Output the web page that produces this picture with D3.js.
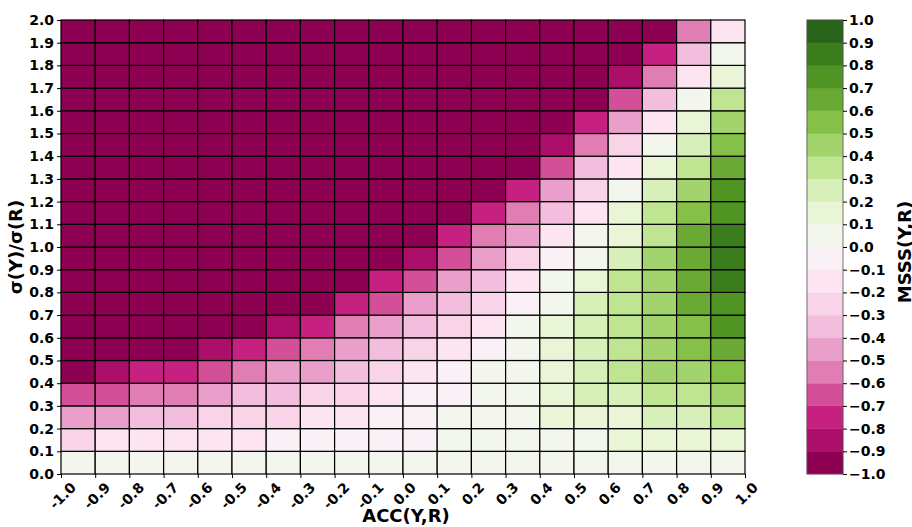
<!DOCTYPE html>
<html><head><meta charset="utf-8">
<script src="https://cdn.jsdelivr.net/npm/d3@7"></script>
<style>
body{margin:0;background:#fff;}
svg text{font-family:"DejaVu Sans",sans-serif;font-weight:bold;fill:#000;}
</style></head>
<body><svg id="c" width="912" height="527"></svg>
<script>
// ---- data ----
const accEdges   = [-1.0,-0.9,-0.8,-0.7,-0.6,-0.5,-0.4,-0.3,-0.2,-0.1,0.0,0.1,0.2,0.3,0.4,0.5,0.6,0.7,0.8,0.9,1.0];
const ratioEdges = [0.0,0.1,0.2,0.3,0.4,0.5,0.6,0.7,0.8,0.9,1.0,1.1,1.2,1.3,1.4,1.5,1.6,1.7,1.8,1.9,2.0];
const xTickLabels = ["-1.0","-0.9","-0.8","-0.7","-0.6","-0.5","-0.4","-0.3","-0.2","-0.1","0.0","0.1","0.2","0.3","0.4","0.5","0.6","0.7","0.8","0.9","1.0"];
const yTickLabels = ["0.0","0.1","0.2","0.3","0.4","0.5","0.6","0.7","0.8","0.9","1.0","1.1","1.2","1.3","1.4","1.5","1.6","1.7","1.8","1.9","2.0"];
const levels = [-1.0,-0.9,-0.8,-0.7,-0.6,-0.5,-0.4,-0.3,-0.2,-0.1,0.0,0.1,0.2,0.3,0.4,0.5,0.6,0.7,0.8,0.9,1.0];
const cbarTickLabels = ["\u22121.0","\u22120.9","\u22120.8","\u22120.7","\u22120.6","\u22120.5","\u22120.4","\u22120.3","\u22120.2","\u22120.1","0.0","0.1","0.2","0.3","0.4","0.5","0.6","0.7","0.8","0.9","1.0"];
const piygAnchors = ["#8e0152","#c51b7d","#de77ae","#f1b6da","#fde0ef","#f7f7f7","#e6f5d0","#b8e186","#7fbc41","#4d9221","#276419"];
// MSSS(Y,R) per cell; row k = ratio band [ratioEdges[k], ratioEdges[k+1]] (bottom row first),
// column = ACC band [accEdges[i], accEdges[i+1]]
const msss = [
 [0.05,0.05,0.05,0.05,0.05,0.05,0.05,0.05,0.05,0.05,0.05,0.05,0.05,0.05,0.05,0.05,0.05,0.05,0.05,0.05],
 [-0.25,-0.15,-0.15,-0.15,-0.15,-0.15,-0.05,-0.05,-0.05,-0.05,-0.05,0.05,0.05,0.05,0.05,0.05,0.15,0.15,0.15,0.15],
 [-0.45,-0.45,-0.35,-0.35,-0.25,-0.25,-0.25,-0.15,-0.15,-0.05,-0.05,0.05,0.05,0.05,0.15,0.15,0.15,0.25,0.25,0.35],
 [-0.65,-0.65,-0.55,-0.55,-0.45,-0.35,-0.35,-0.25,-0.25,-0.15,-0.05,-0.05,0.05,0.05,0.15,0.25,0.25,0.35,0.35,0.45],
 [-1.0,-0.85,-0.75,-0.75,-0.65,-0.55,-0.45,-0.45,-0.35,-0.25,-0.15,-0.05,0.05,0.05,0.15,0.25,0.35,0.45,0.45,0.55],
 [-1.0,-1.0,-1.0,-1.0,-0.85,-0.75,-0.65,-0.55,-0.45,-0.35,-0.25,-0.15,-0.05,0.05,0.15,0.25,0.35,0.45,0.55,0.65],
 [-1.0,-1.0,-1.0,-1.0,-1.0,-1.0,-0.85,-0.75,-0.55,-0.45,-0.35,-0.25,-0.15,0.05,0.15,0.25,0.35,0.45,0.55,0.75],
 [-1.0,-1.0,-1.0,-1.0,-1.0,-1.0,-1.0,-1.0,-0.75,-0.65,-0.45,-0.35,-0.25,-0.05,0.05,0.25,0.35,0.45,0.65,0.75],
 [-1.0,-1.0,-1.0,-1.0,-1.0,-1.0,-1.0,-1.0,-1.0,-0.75,-0.65,-0.45,-0.35,-0.15,0.05,0.15,0.35,0.45,0.65,0.85],
 [-1.0,-1.0,-1.0,-1.0,-1.0,-1.0,-1.0,-1.0,-1.0,-1.0,-0.85,-0.65,-0.45,-0.25,-0.05,0.05,0.25,0.45,0.65,0.85],
 [-1.0,-1.0,-1.0,-1.0,-1.0,-1.0,-1.0,-1.0,-1.0,-1.0,-1.0,-0.75,-0.55,-0.45,-0.15,0.05,0.15,0.35,0.65,0.85],
 [-1.0,-1.0,-1.0,-1.0,-1.0,-1.0,-1.0,-1.0,-1.0,-1.0,-1.0,-1.0,-0.75,-0.55,-0.35,-0.15,0.15,0.35,0.55,0.75],
 [-1.0,-1.0,-1.0,-1.0,-1.0,-1.0,-1.0,-1.0,-1.0,-1.0,-1.0,-1.0,-1.0,-0.75,-0.45,-0.25,0.05,0.25,0.45,0.75],
 [-1.0,-1.0,-1.0,-1.0,-1.0,-1.0,-1.0,-1.0,-1.0,-1.0,-1.0,-1.0,-1.0,-1.0,-0.65,-0.35,-0.15,0.15,0.35,0.65],
 [-1.0,-1.0,-1.0,-1.0,-1.0,-1.0,-1.0,-1.0,-1.0,-1.0,-1.0,-1.0,-1.0,-1.0,-0.85,-0.55,-0.25,0.05,0.25,0.55],
 [-1.0,-1.0,-1.0,-1.0,-1.0,-1.0,-1.0,-1.0,-1.0,-1.0,-1.0,-1.0,-1.0,-1.0,-1.0,-0.75,-0.45,-0.15,0.15,0.45],
 [-1.0,-1.0,-1.0,-1.0,-1.0,-1.0,-1.0,-1.0,-1.0,-1.0,-1.0,-1.0,-1.0,-1.0,-1.0,-1.0,-0.65,-0.35,0.05,0.35],
 [-1.0,-1.0,-1.0,-1.0,-1.0,-1.0,-1.0,-1.0,-1.0,-1.0,-1.0,-1.0,-1.0,-1.0,-1.0,-1.0,-0.85,-0.55,-0.15,0.15],
 [-1.0,-1.0,-1.0,-1.0,-1.0,-1.0,-1.0,-1.0,-1.0,-1.0,-1.0,-1.0,-1.0,-1.0,-1.0,-1.0,-1.0,-0.75,-0.35,0.05],
 [-1.0,-1.0,-1.0,-1.0,-1.0,-1.0,-1.0,-1.0,-1.0,-1.0,-1.0,-1.0,-1.0,-1.0,-1.0,-1.0,-1.0,-1.0,-0.55,-0.15]
];

// ---- layout ----
const L = 61, R = 745, T = 20, B = 474;
const TICK_FS = "14px", TITLE_FS = "18px";
const svg = d3.select("#c");
const x = d3.scaleLinear().domain([accEdges[0], accEdges[accEdges.length-1]]).range([L, R]);
const y = d3.scaleLinear().domain([ratioEdges[0], ratioEdges[ratioEdges.length-1]]).range([B, T]);

const interp = d3.scaleLinear().domain(piygAnchors.map((_, k) => k/(piygAnchors.length-1))).range(piygAnchors).interpolate(d3.interpolateRgb);
const nBins = levels.length - 1;
const binColors = d3.range(nBins).map(i => interp(i/(nBins-1)));
const color = d3.scaleThreshold().domain(levels.slice(1, -1).map(v => v + 1e-9)).range(binColors);

// cells
const cells = [];
msss.forEach((row, k) => row.forEach((v, i) => cells.push({i, k, v})));
svg.append("g").selectAll("rect").data(cells).join("rect")
  .attr("x", d => x(accEdges[d.i]))
  .attr("y", d => y(ratioEdges[d.k+1]))
  .attr("width", d => x(accEdges[d.i+1]) - x(accEdges[d.i]))
  .attr("height", d => y(ratioEdges[d.k]) - y(ratioEdges[d.k+1]))
  .attr("fill", d => color(d.v))
  .attr("stroke", "#000").attr("stroke-width", 1.2);

// y axis
const yAxis = d3.axisLeft(y).tickValues(ratioEdges).tickFormat((d, i) => yTickLabels[i]).tickSize(4).tickPadding(3);
const gy = svg.append("g").attr("transform", `translate(${L},0)`).call(yAxis);
gy.select(".domain").remove();
gy.selectAll("text").style("font-size", TICK_FS).style("font-family", "DejaVu Sans").style("font-weight", "bold");
gy.selectAll("line").attr("stroke", "#000");

// x axis
const xAxis = d3.axisBottom(x).tickValues(accEdges).tickFormat((d, i) => xTickLabels[i]).tickSize(4);
const gx = svg.append("g").attr("transform", `translate(0,${B})`).call(xAxis);
gx.select(".domain").remove();
gx.selectAll("line").attr("stroke", "#000");
gx.selectAll("text")
  .style("font-size", TICK_FS).style("font-family", "DejaVu Sans").style("font-weight", "bold")
  .attr("text-anchor", "middle").attr("dy", null).attr("y", null)
  .attr("dominant-baseline", "central")
  .attr("transform", function() {
    const w = this.getComputedTextLength();
    const box = (w + 11) / Math.SQRT2;
    return `translate(1,${7 + box/2}) rotate(-45)`;
  });

// axis titles
svg.append("text").attr("x", 406).attr("y", 522).attr("text-anchor", "middle")
  .style("font-size", TITLE_FS).text("ACC(Y,R)");
svg.append("text").attr("transform", `translate(22,${(T+B)/2}) rotate(-90)`).attr("text-anchor", "middle")
  .style("font-size", TITLE_FS).text("σ(Y)/σ(R)");

// colorbar
const CL = 807, CW = 36;
const cy = d3.scaleLinear().domain([levels[0], levels[levels.length-1]]).range([B, T]);
const cbar = svg.append("g");
cbar.selectAll("rect").data(d3.range(nBins)).join("rect")
  .attr("x", CL).attr("width", CW)
  .attr("y", i => cy(levels[i+1])).attr("height", i => cy(levels[i]) - cy(levels[i+1]))
  .attr("fill", i => binColors[i]).attr("stroke", i => binColors[i]).attr("stroke-width", 0.5);
cbar.append("rect").attr("x", CL).attr("y", T).attr("width", CW).attr("height", B - T)
  .attr("fill", "none").attr("stroke", "#555").attr("stroke-width", 0.8);
const cAxis = d3.axisRight(cy).tickValues(levels).tickFormat((d, i) => cbarTickLabels[i]).tickSize(4).tickPadding(2);
const gc = svg.append("g").attr("transform", `translate(${CL+CW},0)`).call(cAxis);
gc.select(".domain").remove();
gc.selectAll("line").attr("stroke", "#000");
gc.selectAll("text").style("font-size", TICK_FS).style("font-family", "DejaVu Sans").style("font-weight", "bold");
svg.append("text").attr("transform", `translate(911,${(T+B)/2 + 5}) rotate(-90)`).attr("text-anchor", "middle")
  .style("font-size", TITLE_FS).text("MSSS(Y,R)");
</script></body></html>
